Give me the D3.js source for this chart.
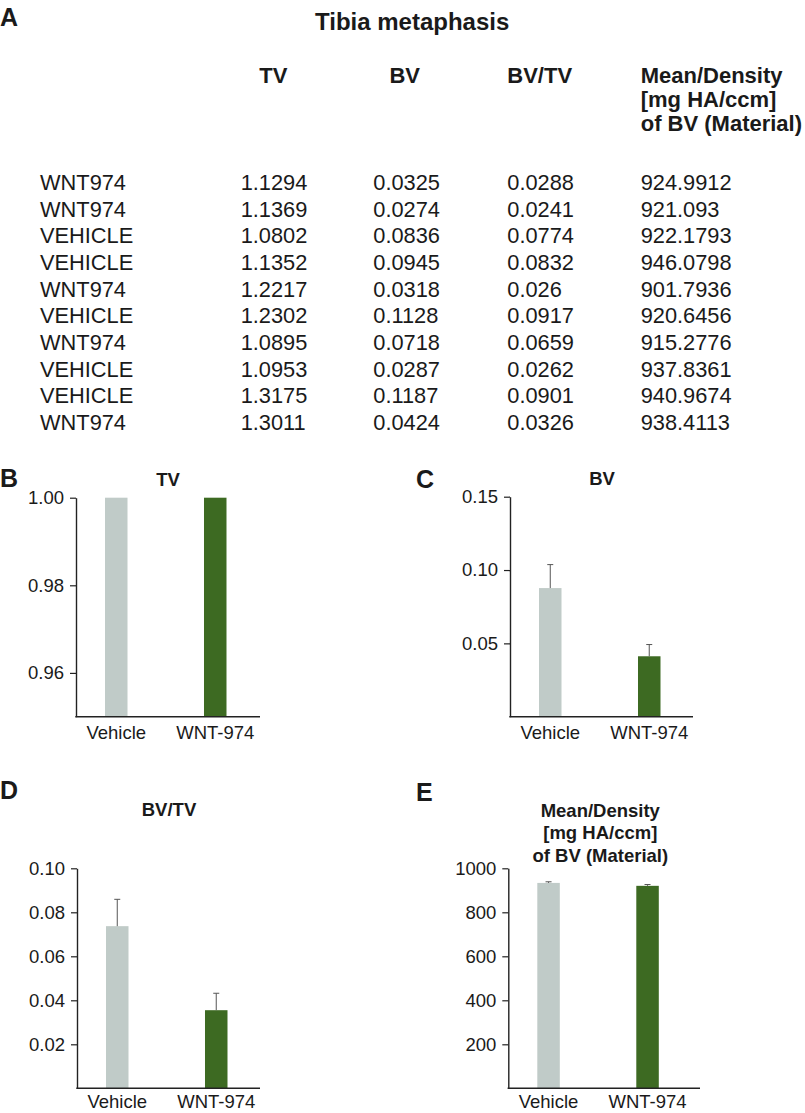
<!DOCTYPE html>
<html>
<head>
<meta charset="utf-8">
<script src="https://cdn.jsdelivr.net/npm/d3@7"></script>
<style>
  html, body { margin: 0; padding: 0; background: #fff; }
  svg { display: block; font-family: "Liberation Sans", Arial, Helvetica, sans-serif; }
</style>
</head>
<body>
<svg id="chart" width="805" height="1113"></svg>
<script>
// ---------- Table data (panel A) ----------
const tableTitle = "Tibia metaphasis";
const tableHeaders = [["TV"], ["BV"], ["BV/TV"], ["Mean/Density", "[mg HA/ccm]", "of BV (Material)"]];
const tableGroups = ["WNT974","WNT974","VEHICLE","VEHICLE","WNT974","VEHICLE","WNT974","VEHICLE","VEHICLE","WNT974"];
const tableTV   = [1.1294, 1.1369, 1.0802, 1.1352, 1.2217, 1.2302, 1.0895, 1.0953, 1.3175, 1.3011];
const tableBV   = [0.0325, 0.0274, 0.0836, 0.0945, 0.0318, 0.1128, 0.0718, 0.0287, 0.1187, 0.0424];
const tableBVTV = [0.0288, 0.0241, 0.0774, 0.0832, 0.026, 0.0917, 0.0659, 0.0262, 0.0901, 0.0326];
const tableDens = [924.9912, 921.093, 922.1793, 946.0798, 901.7936, 920.6456, 915.2776, 937.8361, 940.9674, 938.4113];

// ---------- Bar chart data (panels B-E) ----------
const categories = ["Vehicle", "WNT-974"];
const tvMean   = [1.1717, 1.1757];  const tvSem   = [0.0449, 0.0380];
const bvMean   = [0.0877, 0.0412];  const bvSem   = [0.0160, 0.0080];
const bvtvMean = [0.0737, 0.0355];  const bvtvSem = [0.0122, 0.0077];
const densMean = [933.54, 920.31];  const densSem = [5.13, 5.99];
const tvTicks   = [0.96, 0.98, 1.00];
const bvTicks   = [0.05, 0.10, 0.15];
const bvtvTicks = [0.02, 0.04, 0.06, 0.08, 0.10];
const densTicks = [200, 400, 600, 800, 1000];

const TXT = "#1a1a1a";
const barColors = ["#c0cbc8", "#3d6a22"];
const svg = d3.select("#chart");

// ---------- Panel A : table ----------
svg.append("text").attr("x", 0).attr("y", 26).attr("font-size", 25).attr("font-weight", "bold").attr("fill", TXT).text("A");
svg.append("text").attr("x", 315).attr("y", 30).attr("font-size", 24).attr("font-weight", "bold").attr("fill", TXT).text(tableTitle);

const colX = [40, 240.7, 373.3, 507.3, 640.7];
const headX = [259.3, 389.4, 507.3, 640.7];
tableHeaders.forEach((lines, i) => {
  lines.forEach((ln, j) => {
    svg.append("text").attr("x", headX[i]).attr("y", 83.3 + j * 23.6)
      .attr("font-size", 22).attr("font-weight", "bold").attr("fill", TXT).text(ln);
  });
});
const rowY = d3.scaleLinear().domain([0, 9]).range([190, 430]);
const cols = [tableGroups, tableTV, tableBV, tableBVTV, tableDens];
cols.forEach((col, ci) => {
  svg.append("g").selectAll("text").data(col).join("text")
    .attr("x", colX[ci]).attr("y", (d, i) => rowY(i))
    .attr("font-size", 21.8).attr("fill", TXT)
    .text(d => String(d));
});

// ---------- Bar panels ----------
function panel(opt) {
  const { letter, letterX, letterY, title, titleY, left, top, bottom, axisRight, domain, ticks, fmt, means, sems, labelPad } = opt;
  svg.append("text").attr("x", letterX).attr("y", letterY).attr("font-size", 25).attr("font-weight", "bold").attr("fill", TXT).text(letter);
  const cx = left + 92;
  title.forEach((t, j) => {
    svg.append("text").attr("x", cx).attr("y", titleY + j * 22.5).attr("text-anchor", "middle")
      .attr("font-size", 18.5).attr("font-weight", "bold").attr("fill", TXT).text(t);
  });
  const y = d3.scaleLinear().domain(domain).range([bottom, top]).clamp(true);
  const x = d3.scaleBand().domain(categories).range([left, left + 184])
    .paddingInner(0.7727).paddingOuter(0.3157).align(0.464);

  const g = svg.append("g");
  g.selectAll("rect.bar").data(categories).join("rect")
    .attr("class", "bar")
    .attr("x", d => x(d)).attr("width", x.bandwidth())
    .attr("y", (d, i) => y(means[i])).attr("height", (d, i) => bottom - y(means[i]))
    .attr("fill", (d, i) => barColors[i]);
  categories.forEach((c, i) => {
    if (means[i] >= domain[1]) return;
    const xc = x(c) + x.bandwidth() / 2;
    g.append("line").attr("x1", xc).attr("x2", xc).attr("y1", y(means[i])).attr("y2", y(means[i] + sems[i]))
      .attr("stroke", "#555").attr("stroke-width", 1);
    g.append("line").attr("x1", xc - 3).attr("x2", xc + 3).attr("y1", y(means[i] + sems[i])).attr("y2", y(means[i] + sems[i]))
      .attr("stroke", "#555").attr("stroke-width", 1);
  });
  const ya = svg.append("g").attr("transform", `translate(${left},0)`)
    .call(d3.axisLeft(y).tickValues(ticks).tickFormat(d3.format(fmt)).tickSize(6).tickSizeOuter(0).tickPadding(6));
  ya.select(".domain").attr("stroke", "#222").attr("stroke-width", 1.4);
  ya.selectAll(".tick line").attr("stroke", "#222").attr("stroke-width", 1.2);
  ya.selectAll(".tick text").attr("font-size", 18.5).attr("fill", TXT).attr("font-family", "Liberation Sans, Arial, sans-serif");
  const xa = svg.append("g").attr("transform", `translate(0,${bottom})`)
    .call(d3.axisBottom(x).tickSize(0).tickPadding(labelPad));
  xa.select(".domain").remove();
  xa.selectAll(".tick text").attr("font-size", 18.5).attr("fill", TXT).attr("font-family", "Liberation Sans, Arial, sans-serif");
  svg.append("line").attr("x1", left - 0.7).attr("x2", axisRight).attr("y1", bottom).attr("y2", bottom)
    .attr("stroke", "#222").attr("stroke-width", 1.4);
}

panel({ letter: "B", letterX: 0, letterY: 486.7, title: ["TV"], titleY: 486,
  left: 76, top: 497.7, bottom: 716.7, axisRight: 260, labelPad: 9.5,
  domain: [0.95, 1.00], ticks: tvTicks, fmt: ".2f", means: tvMean, sems: tvSem });
panel({ letter: "C", letterX: 416, letterY: 488.3, title: ["BV"], titleY: 485,
  left: 510, top: 496.7, bottom: 716.7, axisRight: 693, labelPad: 9.5,
  domain: [0, 0.15], ticks: bvTicks, fmt: ".2f", means: bvMean, sems: bvSem });
panel({ letter: "D", letterX: 0, letterY: 799.3, title: ["BV/TV"], titleY: 816,
  left: 77, top: 868.3, bottom: 1088.3, axisRight: 260, labelPad: 7,
  domain: [0, 0.10], ticks: bvtvTicks, fmt: ".2f", means: bvtvMean, sems: bvtvSem });
panel({ letter: "E", letterX: 416, letterY: 800.7, title: ["Mean/Density", "[mg HA/ccm]", "of BV (Material)"], titleY: 816.7,
  left: 508.3, top: 868.3, bottom: 1088.3, axisRight: 700, labelPad: 7,
  domain: [0, 1000], ticks: densTicks, fmt: "d", means: densMean, sems: densSem });
</script>
</body>
</html>
